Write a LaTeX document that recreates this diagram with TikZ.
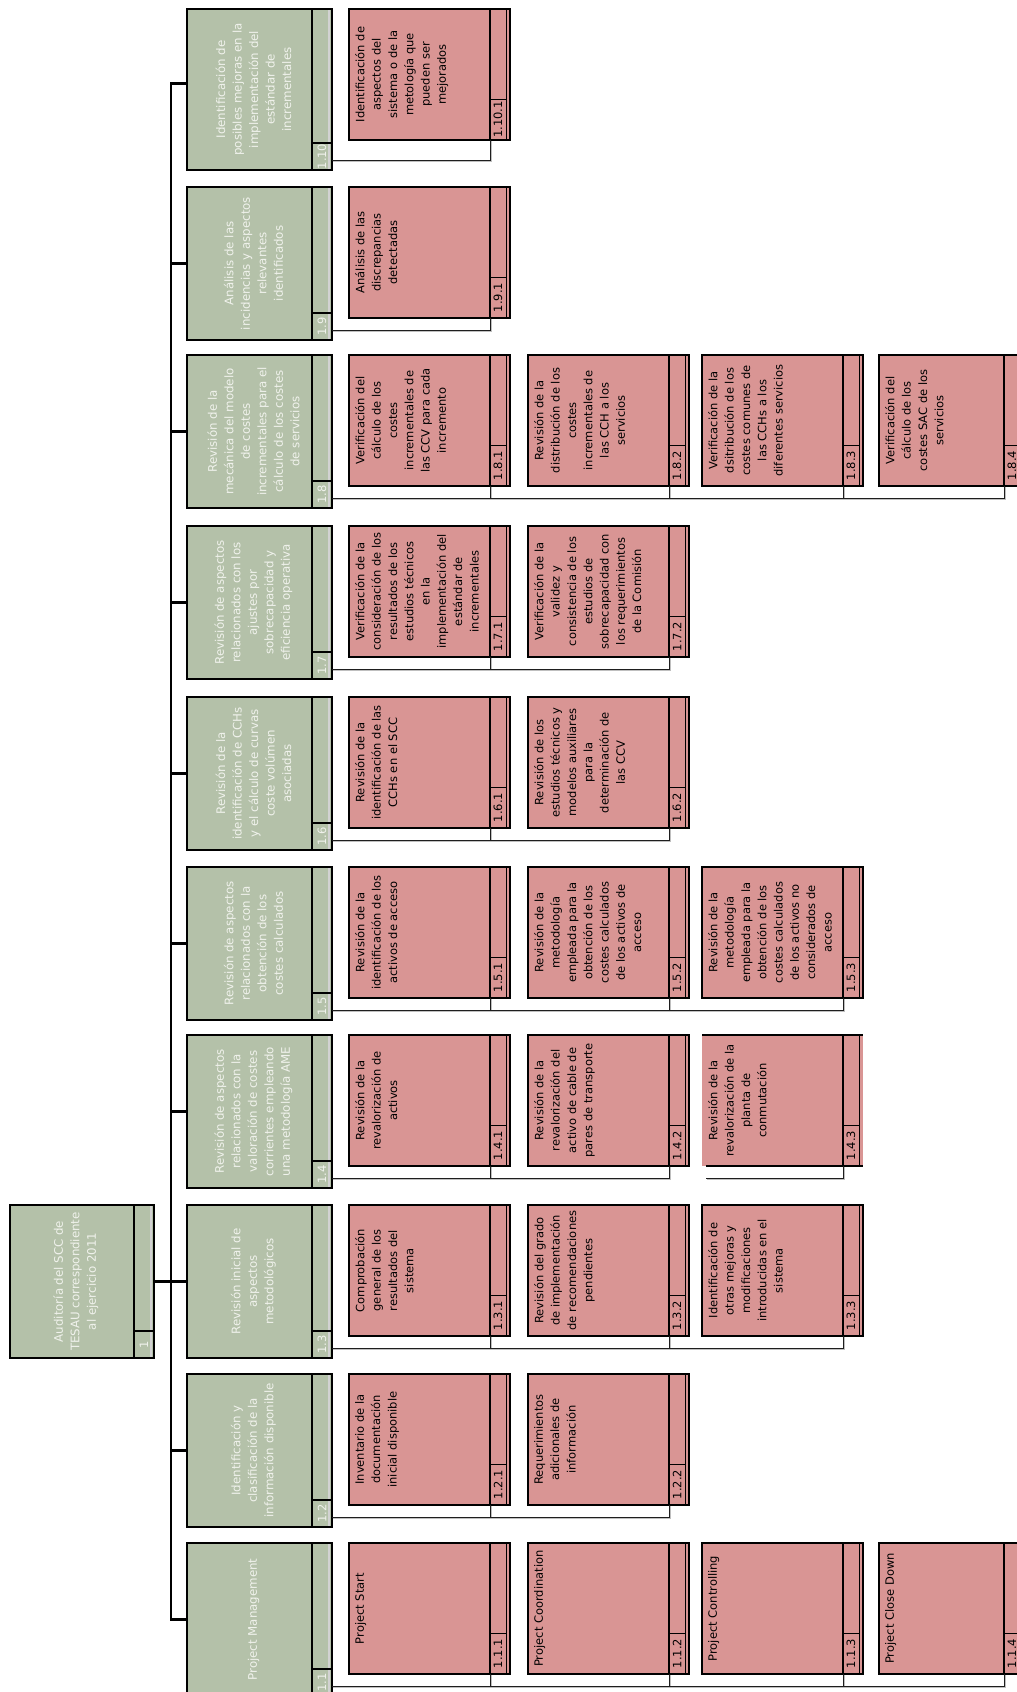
\documentclass[tikz,border=0pt]{standalone}
\usepackage{fontspec}
\setmainfont{DejaVu Sans}
\usepackage{xcolor}
\usepackage{tikz}
\definecolor{wbsgreen}{HTML}{B4C1A9}
\definecolor{wbspink}{HTML}{D99594}
\definecolor{wbsline}{HTML}{1E1E1E}
\definecolor{wbslight}{HTML}{F0F2EC}

\begin{document}
\begin{tikzpicture}[x=1pt, y=-1pt,
    gbox/.style={rectangle, anchor=north west, inner sep=0pt, outer sep=0pt, draw=black, line width=2pt,
                 fill=wbsgreen, minimum width=145pt, minimum height=153pt,
                 path picture={
                   \draw[gray!35, line width=1.5pt] ([xshift=-3pt]path picture bounding box.north east) -- ([xshift=-3pt]path picture bounding box.south east);
                   \draw[line width=1.8pt] ([xshift=-20pt]path picture bounding box.north east) -- ([xshift=-20pt]path picture bounding box.south east);
                   \draw[line width=1.2pt] ([xshift=-20pt, yshift=27pt]path picture bounding box.south east) -- ([yshift=27pt]path picture bounding box.south east);
                 },
                 label={[gnum]south east:#1}},
    pbox/.style={rectangle, anchor=north west, inner sep=0pt, outer sep=0pt, draw=black, line width=2pt,
                 fill=wbspink, minimum width=161pt, minimum height=131pt,
                 path picture={
                   \draw[line width=0.8pt] ([xshift=-4pt]path picture bounding box.north east) -- ([xshift=-4pt]path picture bounding box.south east);
                   \draw[line width=1.6pt] ([xshift=-20pt]path picture bounding box.north east) -- ([xshift=-20pt]path picture bounding box.south east);
                   \draw[line width=1pt] ([xshift=-20pt, yshift=41pt]path picture bounding box.south east) -- ([xshift=-4pt, yshift=41pt]path picture bounding box.south east);
                 },
                 label={[pnum]south east:#1}},
    gnum/.style={anchor=center, xshift=-10pt, yshift=13.5pt, rotate=90, inner sep=0pt, text=wbslight,
                 font=\fontsize{11.5pt}{14pt}\selectfont},
    pnum/.style={anchor=center, xshift=-12pt, yshift=20.5pt, rotate=90, inner sep=0pt, text=black,
                 font=\fontsize{11.5pt}{14pt}\selectfont},
    gtext/.style={xshift=-6pt, rotate=90, align=center, inner sep=0pt, text=wbslight,
                  font=\fontsize{11.8pt}{16.5pt}\selectfont},
    ptext/.style={xshift=6pt, rotate=90, anchor=north, align=center, inner sep=0pt, text=black,
                  font=\fontsize{11.5pt}{16.3pt}\selectfont},
    bus/.style={line width=2.2pt, draw=black},
    link/.style={line width=0.9pt, draw=wbsline,
                 preaction={draw=black!25, line width=1pt, transform canvas={shift={(1pt,-1pt)}}}},
    boxline/.style={line width=2pt, draw=black}
  ]
    \useasboundingbox (0,0) rectangle (1017,1692);
    \clip (0,0) rectangle (1017,1692);

    % root
    \node[gbox=1, minimum width=144pt] (root) at (10,1205) {};
    \node[gtext] at (root.center) {Auditoría del SCC de\\TESAU correspondiente\\al ejercicio 2011};

    % second level
    \node[gbox=1.1]  (g11)  at (187,1543) {};
    \node[gbox=1.2]  (g12)  at (187,1374) {};
    \node[gbox=1.3]  (g13)  at (187,1205) {};
    \node[gbox=1.4]  (g14)  at (187,1035) {};
    \node[gbox=1.5]  (g15)  at (187,867)  {};
    \node[gbox=1.6]  (g16)  at (187,697)  {};
    \node[gbox=1.7]  (g17)  at (187,526)  {};
    \node[gbox=1.8]  (g18)  at (187,355)  {};
    \node[gbox=1.9]  (g19)  at (187,187)  {};
    \node[gbox=1.10, minimum height=161pt] (g110) at (187,9) {};

    \node[gtext] at (g11.center)  {Project Management};
    \node[gtext] at (g12.center)  {Identificación y\\clasificación de la\\información disponible};
    \node[gtext] at (g13.center)  {Revisión inicial de\\aspectos\\metodológicos};
    \node[gtext] at (g14.center)  {Revisión de aspectos\\relacionados con la\\valoración de costes\\corrientes empleando\\una metodología AME};
    \node[gtext] at (g15.center)  {Revisión de aspectos\\relacionados con la\\obtención de los\\costes calculados};
    \node[gtext] at (g16.center)  {Revisión de la\\identificación de CCHs\\y el cálculo de curvas\\coste volúmen\\asociadas};
    \node[gtext] at (g17.center)  {Revisión de aspectos\\relacionados con los\\ajustes por\\sobrecapacidad y\\eficiencia operativa};
    \node[gtext] at (g18.center)  {Revisión de la\\mecánica del modelo\\de costes\\incrementales para el\\cálculo de los costes\\de servicios};
    \node[gtext] at (g19.center)  {Análisis de las\\incidencias y aspectos\\relevantes\\identificados};
    \node[gtext] at (g110.center) {Identificación de\\posibles mejoras en la\\implementación del\\estándar de\\incrementales};

    % third level
    \node[pbox=1.1.1] (p111) at (349,1543) {};
    \node[pbox=1.1.2] (p112) at (528,1543) {};
    \node[pbox=1.1.3] (p113) at (702,1543) {};
    \node[pbox=1.1.4, minimum width=145pt] (p114) at (879,1543) {};
    \node[pbox=1.2.1] (p121) at (349,1374) {};
    \node[pbox=1.2.2] (p122) at (528,1374) {};
    \node[pbox=1.3.1] (p131) at (349,1205) {};
    \node[pbox=1.3.2] (p132) at (528,1205) {};
    \node[pbox=1.3.3] (p133) at (702,1205) {};
    \node[pbox=1.4.1] (p141) at (349,1035) {};
    \node[pbox=1.4.2] (p142) at (528,1035) {};
    \node[pbox=1.4.3, draw=none] (p143) at (702,1035) {};
    \node[pbox=1.5.1] (p151) at (349,867) {};
    \node[pbox=1.5.2] (p152) at (528,867) {};
    \node[pbox=1.5.3] (p153) at (702,867) {};
    \node[pbox=1.6.1] (p161) at (349,697) {};
    \node[pbox=1.6.2] (p162) at (528,697) {};
    \node[pbox=1.7.1] (p171) at (349,526) {};
    \node[pbox=1.7.2] (p172) at (528,526) {};
    \node[pbox=1.8.1] (p181) at (349,355) {};
    \node[pbox=1.8.2] (p182) at (528,355) {};
    \node[pbox=1.8.3] (p183) at (702,355) {};
    \node[pbox=1.8.4, minimum width=145pt] (p184) at (879,355) {};
    \node[pbox=1.9.1] (p191) at (349,187) {};
    \node[pbox=1.10.1] (p1101) at (349,9) {};
    \draw[boxline] (p143.north west) -- (p143.north east);
    \draw[boxline] ([xshift=4pt]p143.south west) -- (p143.south east);

    \node[ptext] at (p111.west) {Project Start};
    \node[ptext] at (p112.west) {Project Coordination};
    \node[ptext] at (p113.west) {Project Controlling};
    \node[ptext] at (p114.west) {Project Close Down};
    \node[ptext] at (p121.west) {Inventario de la\\documentación\\inicial disponible};
    \node[ptext] at (p122.west) {Requerimientos\\adicionales de\\información};
    \node[ptext] at (p131.west) {Comprobación\\general de los\\resultados del\\sistema};
    \node[ptext] at (p132.west) {Revisión del grado\\de implementación\\de recomendaciones\\pendientes};
    \node[ptext] at (p133.west) {Identificación de\\otras mejoras y\\modificaciones\\introducidas en el\\sistema};
    \node[ptext] at (p141.west) {Revisión de la\\revalorización de\\activos};
    \node[ptext] at (p142.west) {Revisión de la\\revalorización del\\activo de cable de\\pares de transporte};
    \node[ptext] at (p143.west) {Revisión de la\\revalorización de la\\planta de\\conmutación};
    \node[ptext] at (p151.west) {Revisión de la\\identificación de los\\activos de acceso};
    \node[ptext] at (p152.west) {Revisión de la\\metodología\\empleada para la\\obtención de los\\costes calculados\\de los activos de\\acceso};
    \node[ptext] at (p153.west) {Revisión de la\\metodología\\empleada para la\\obtención de los\\costes calculados\\de los activos no\\considerados de\\acceso};
    \node[ptext] at (p161.west) {Revisión de la\\identificación de las\\CCHs en el SCC};
    \node[ptext] at (p162.west) {Revisión de los\\estudios técnicos y\\modelos auxiliares\\para la\\determinación de\\las CCV};
    \node[ptext] at (p171.west) {Verificación de la\\consideración de los\\resultados de los\\estudios técnicos\\en la\\implementación del\\estándar de\\incrementales};
    \node[ptext] at (p172.west) {Verificación de la\\validez y\\consistencia de los\\estudios de\\sobrecapacidad con\\los requerimientos\\de la Comisión};
    \node[ptext] at (p181.west) {Verificación del\\cálculo de los\\costes\\incrementales de\\las CCV para cada\\incremento};
    \node[ptext] at (p182.west) {Revisión de la\\distribución de los\\costes\\incrementales de\\las CCH a los\\servicios};
    \node[ptext] at (p183.west) {Verificación de la\\dsitribución de los\\costes comunes de\\las CCHs a los\\diferentes servicios};
    \node[ptext] at (p184.west) {Verificación del\\cálculo de los\\costes SAC de los\\servicios};
    \node[ptext] at (p191.west) {Análisis de las\\discrepancias\\detectadas};
    \node[ptext] at (p1101.west) {Identificación de\\aspectos del\\sistema o de la\\metología que\\pueden ser\\mejorados};

    % bus
    \draw[bus] (root.east) -- (g13.west);
    \draw[bus] (g11.west) -- ++(-16,0) |- ([yshift=6pt]g110.west);
    \draw[bus] (g12.west) -- ++(-16,0);
    \draw[bus] (g14.west) -- ++(-16,0);
    \draw[bus] (g15.west) -- ++(-16,0);
    \draw[bus] (g16.west) -- ++(-16,0);
    \draw[bus] (g17.west) -- ++(-16,0);
    \draw[bus] (g18.west) -- ++(-16,0);
    \draw[bus] (g19.west) -- ++(-16,0);

    % links to the work packages
    \draw[link] ([xshift=-20pt]p111.south east) |- ([yshift=10pt]g11.south east);
    \draw[link] ([xshift=-20pt]p112.south east) |- ([yshift=10pt]g11.south east);
    \draw[link] ([xshift=-20pt]p113.south east) |- ([yshift=10pt]g11.south east);
    \draw[link] ([xshift=-20pt]p114.south east) |- ([yshift=10pt]g11.south east);
    \draw[link] ([xshift=-20pt]p121.south east) |- ([yshift=10pt]g12.south east);
    \draw[link] ([xshift=-20pt]p122.south east) |- ([yshift=10pt]g12.south east);
    \draw[link] ([xshift=-20pt]p131.south east) |- ([yshift=10pt]g13.south east);
    \draw[link] ([xshift=-20pt]p132.south east) |- ([yshift=10pt]g13.south east);
    \draw[link] ([xshift=-20pt]p133.south east) |- ([yshift=10pt]g13.south east);
    \draw[link] ([xshift=-20pt]p141.south east) |- ([yshift=10pt]g14.south east);
    \draw[link] ([xshift=-20pt]p142.south east) |- ([yshift=10pt]g14.south east);
    \draw[link] ([xshift=-20pt]p143.south east) |- ([xshift=4pt, yshift=-12pt]p143.south west);
    \draw[link] ([xshift=-20pt]p151.south east) |- ([yshift=10pt]g15.south east);
    \draw[link] ([xshift=-20pt]p152.south east) |- ([yshift=10pt]g15.south east);
    \draw[link] ([xshift=-20pt]p153.south east) |- ([yshift=10pt]g15.south east);
    \draw[link] ([xshift=-20pt]p161.south east) |- ([yshift=10pt]g16.south east);
    \draw[link] ([xshift=-20pt]p162.south east) |- ([yshift=10pt]g16.south east);
    \draw[link] ([xshift=-20pt]p171.south east) |- ([yshift=10pt]g17.south east);
    \draw[link] ([xshift=-20pt]p172.south east) |- ([yshift=10pt]g17.south east);
    \draw[link] ([xshift=-20pt]p181.south east) |- ([yshift=10pt]g18.south east);
    \draw[link] ([xshift=-20pt]p182.south east) |- ([yshift=10pt]g18.south east);
    \draw[link] ([xshift=-20pt]p183.south east) |- ([yshift=10pt]g18.south east);
    \draw[link] ([xshift=-20pt]p184.south east) |- ([yshift=10pt]g18.south east);
    \draw[link] ([xshift=-20pt]p191.south east) |- ([yshift=10pt]g19.south east);
    \draw[link] ([xshift=-20pt]p1101.south east) |- ([yshift=10pt]g110.south east);
  \end{tikzpicture}
\end{document}
